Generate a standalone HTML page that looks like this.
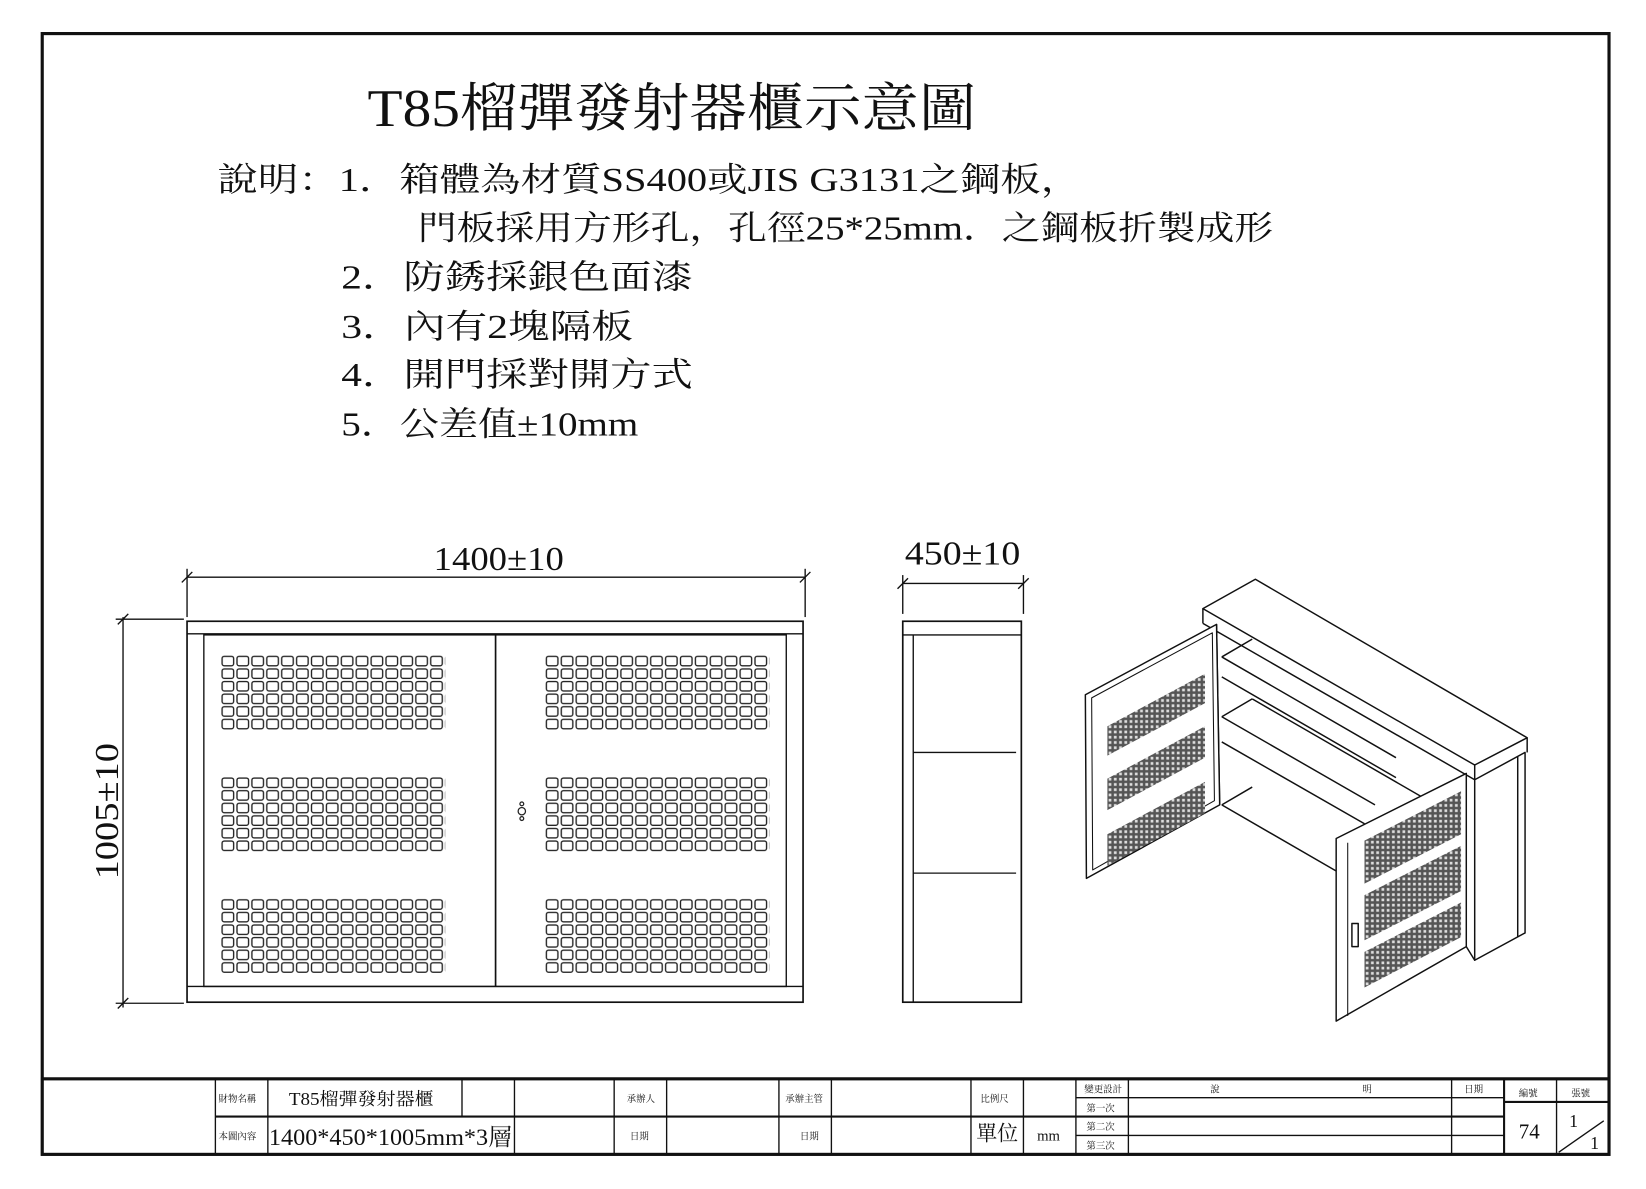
<!DOCTYPE html>
<html><head><meta charset="utf-8"><style>
html,body{margin:0;padding:0;background:#fff;}
svg{display:block}
text{font-family:"Liberation Serif","Noto Serif CJK SC","Noto Sans CJK TC",serif;fill:#111}
</style></head><body>
<svg width="1646" height="1189" viewBox="0 0 1568 1133" xmlns="http://www.w3.org/2000/svg">
<defs>
<pattern id="holes" patternUnits="userSpaceOnUse" x="0" y="0" width="14.2" height="12">
<rect x="1.4" y="1.4" width="11" height="9" rx="2" fill="none" stroke="#222" stroke-width="1.3"/>
</pattern>
<pattern id="mesh" patternUnits="userSpaceOnUse" width="5" height="5">
<rect width="5" height="5" fill="#555"/>
<rect x="1.2" y="1.2" width="2.6" height="2.6" fill="#ddd"/>
</pattern>
</defs>
<rect x="0" y="0" width="1568" height="1133" fill="#fff"/>
<rect x="40" y="32" width="1493" height="1068" fill="none" stroke="#111" stroke-width="3"/>

<text x="350" y="120" font-size="50" textLength="580" lengthAdjust="spacingAndGlyphs">T85榴彈發射器櫃示意圖</text>
<text x="207" y="182" font-size="32" textLength="823" lengthAdjust="spacingAndGlyphs">說明：1．箱體為材質SS400或JIS G3131之鋼板，</text>
<text x="398" y="228" font-size="32" textLength="815" lengthAdjust="spacingAndGlyphs">門板採用方形孔，孔徑25*25mm．之鋼板折製成形</text>
<text x="325" y="275" font-size="32" textLength="335" lengthAdjust="spacingAndGlyphs">2．防銹採銀色面漆</text>
<text x="325" y="322" font-size="32" textLength="278" lengthAdjust="spacingAndGlyphs">3．內有2塊隔板</text>
<text x="325" y="368" font-size="32" textLength="335" lengthAdjust="spacingAndGlyphs">4．開門採對開方式</text>
<text x="325" y="415" font-size="32" textLength="283" lengthAdjust="spacingAndGlyphs">5．公差值±10mm</text>

<g stroke="#111" fill="none" stroke-width="1.3">
<line x1="178" y1="550" x2="767" y2="550"/>
<line x1="178" y1="542" x2="178" y2="588"/>
<line x1="767" y1="542" x2="767" y2="588"/>
<line x1="173" y1="555" x2="183" y2="545"/>
<line x1="762" y1="555" x2="772" y2="545"/>
<line x1="117" y1="588" x2="117" y2="960"/>
<line x1="110" y1="590" x2="175" y2="590"/>
<line x1="110" y1="956" x2="175" y2="956"/>
<line x1="112" y1="595" x2="122" y2="585"/>
<line x1="112" y1="961" x2="122" y2="951"/>
<rect x="178" y="592" width="587" height="363" stroke-width="1.6"/>
<line x1="178" y1="604" x2="765" y2="604"/>
<line x1="178" y1="940" x2="765" y2="940"/>
<rect x="194" y="605" width="555" height="335"/>
<line x1="472" y1="605" x2="472" y2="940" stroke-width="1.6"/>
</g>
<text x="413" y="543" font-size="32" textLength="124" lengthAdjust="spacingAndGlyphs">1400±10</text>
<text transform="translate(112,838) rotate(-90)" font-size="32" textLength="130" lengthAdjust="spacingAndGlyphs">1005±10</text>
<g transform="translate(210,624)"><rect width="214" height="72" fill="url(#holes)"/></g>
<g transform="translate(210,740)"><rect width="214" height="72" fill="url(#holes)"/></g>
<g transform="translate(210,856)"><rect width="214" height="72" fill="url(#holes)"/></g>
<g transform="translate(519,624)"><rect width="214" height="72" fill="url(#holes)"/></g>
<g transform="translate(519,740)"><rect width="214" height="72" fill="url(#holes)"/></g>
<g transform="translate(519,856)"><rect width="214" height="72" fill="url(#holes)"/></g>
<g stroke="#222" fill="none" stroke-width="1.2">
<circle cx="497" cy="773" r="3.5"/><circle cx="497" cy="766" r="1.8"/><circle cx="497" cy="780" r="1.8"/>
</g>

<g stroke="#111" fill="none" stroke-width="1.3">
<line x1="860" y1="556" x2="975" y2="556"/>
<line x1="860" y1="548" x2="860" y2="585"/>
<line x1="975" y1="548" x2="975" y2="585"/>
<line x1="855" y1="561" x2="865" y2="551"/>
<line x1="970" y1="561" x2="980" y2="551"/>
<rect x="860" y="592" width="113" height="363" stroke-width="1.6"/>
<line x1="860" y1="605" x2="973" y2="605"/>
<line x1="870" y1="605" x2="870" y2="955"/>
<line x1="870" y1="717" x2="968" y2="717"/>
<line x1="870" y1="832" x2="968" y2="832"/>
</g>
<text x="862" y="538" font-size="32" textLength="110" lengthAdjust="spacingAndGlyphs">450±10</text>

<g stroke="#111" fill="none" stroke-width="1.4" stroke-linejoin="round">
<polygon points="1146,580 1196,552 1455,703 1405,729" fill="#fff"/>
<line x1="1146" y1="580" x2="1146" y2="594"/>
<line x1="1146" y1="594" x2="1405" y2="743"/>
<line x1="1405" y1="729" x2="1405" y2="743"/>
<line x1="1455" y1="703" x2="1455" y2="717"/>
<polygon points="1405,743 1453,717 1453,889 1405,915" fill="#fff"/>
<line x1="1446" y1="721" x2="1446" y2="893"/>
<line x1="1164" y1="626" x2="1193" y2="609"/>
<line x1="1164" y1="626" x2="1330" y2="722"/>
<line x1="1164" y1="645" x2="1330" y2="741"/>
<line x1="1164" y1="683" x2="1193" y2="666"/>
<line x1="1164" y1="683" x2="1310" y2="767"/>
<line x1="1164" y1="707" x2="1300" y2="785"/>
<line x1="1193" y1="666" x2="1380" y2="774"/>
<line x1="1164" y1="767" x2="1273" y2="830"/>
<line x1="1164" y1="767" x2="1193" y2="750"/>
<line x1="1159" y1="595" x2="1162" y2="767"/>
<line x1="1397" y1="902" x2="1405" y2="915"/>
</g>
<g stroke="#111" stroke-width="1.4" stroke-linejoin="round">
<polygon points="1034,662 1159,595 1162,767 1035,837" fill="#fff"/>
<polygon points="1040,665 1155,603 1157,763 1041,829" fill="none" stroke-width="1"/>
<polygon points="1055,692 1148,642 1148,670 1055,720" fill="url(#mesh)" stroke="none"/>
<polygon points="1055,742 1148,692 1148,722 1055,772" fill="url(#mesh)" stroke="none"/>
<polygon points="1055,795 1148,745 1148,775 1055,825" fill="url(#mesh)" stroke="none"/>
</g>
<g stroke="#111" stroke-width="1.4" stroke-linejoin="round">
<polygon points="1273,799 1397,737 1397,902 1273,973" fill="#fff"/>
<line x1="1284" y1="803" x2="1284" y2="968" stroke-width="1"/>
<polygon points="1300,801 1392,754 1392,795 1300,842" fill="url(#mesh)" stroke="none"/>
<polygon points="1300,853 1392,806 1392,849 1300,896" fill="url(#mesh)" stroke="none"/>
<polygon points="1300,907 1392,860 1392,893 1300,941" fill="url(#mesh)" stroke="none"/>
<rect x="1288" y="880" width="6" height="22" fill="#fff"/>
</g>

<g stroke="#111" fill="none" stroke-width="1.3">
<rect x="40" y="1028" width="1493" height="72" stroke-width="2.5"/>
<line x1="40" y1="1028" x2="1533" y2="1028" stroke-width="3"/>
<line x1="205" y1="1064" x2="1025" y2="1064" stroke-width="2"/>
<line x1="1025" y1="1046" x2="1433" y2="1046"/>
<line x1="1025" y1="1064" x2="1433" y2="1064" stroke-width="2"/>
<line x1="1025" y1="1082" x2="1433" y2="1082"/>
<line x1="1433" y1="1050" x2="1533" y2="1050" stroke-width="2"/>
<line x1="205" y1="1028" x2="205" y2="1100"/>
<line x1="255" y1="1028" x2="255" y2="1100"/>
<line x1="440" y1="1028" x2="440" y2="1064"/>
<line x1="490" y1="1028" x2="490" y2="1100"/>
<line x1="585" y1="1028" x2="585" y2="1100"/>
<line x1="635" y1="1028" x2="635" y2="1100"/>
<line x1="742" y1="1028" x2="742" y2="1100"/>
<line x1="792" y1="1028" x2="792" y2="1100"/>
<line x1="925" y1="1028" x2="925" y2="1100"/>
<line x1="975" y1="1028" x2="975" y2="1100"/>
<line x1="1025" y1="1028" x2="1025" y2="1100"/>
<line x1="1075" y1="1028" x2="1075" y2="1100"/>
<line x1="1383" y1="1028" x2="1383" y2="1100"/>
<line x1="1433" y1="1028" x2="1433" y2="1100" stroke-width="2"/>
<line x1="1483" y1="1028" x2="1483" y2="1100"/>
<line x1="1485" y1="1098" x2="1528" y2="1068"/>
</g>
<g font-size="9">
<text x="208" y="1050">財物名稱</text>
<text x="208" y="1086">本圖內容</text>
<text x="597" y="1050">承辦人</text>
<text x="748" y="1050">承辦主管</text>
<text x="600" y="1086">日期</text>
<text x="762" y="1086">日期</text>
<text x="934" y="1050">比例尺</text>
<text x="1033" y="1041">變更設計</text>
<text x="1035" y="1059">第一次</text>
<text x="1035" y="1077">第二次</text>
<text x="1035" y="1095">第三次</text>
<text x="1153" y="1041">說</text>
<text x="1298" y="1041">明</text>
<text x="1395" y="1041">日期</text>
<text x="1447" y="1045">編號</text>
<text x="1497" y="1045">張號</text>
</g>
<text x="275" y="1053" font-size="17" textLength="138" lengthAdjust="spacingAndGlyphs">T85榴彈發射器櫃</text>
<text x="256" y="1091" font-size="22" textLength="232" lengthAdjust="spacingAndGlyphs">1400*450*1005mm*3層</text>
<text x="930" y="1087" font-size="20">單位</text>
<text x="988" y="1087" font-size="14">mm</text>
<text x="1447" y="1085" font-size="20">74</text>
<text x="1495" y="1074" font-size="17">1</text>
<text x="1515" y="1095" font-size="17">1</text>
</svg>
</body></html>
